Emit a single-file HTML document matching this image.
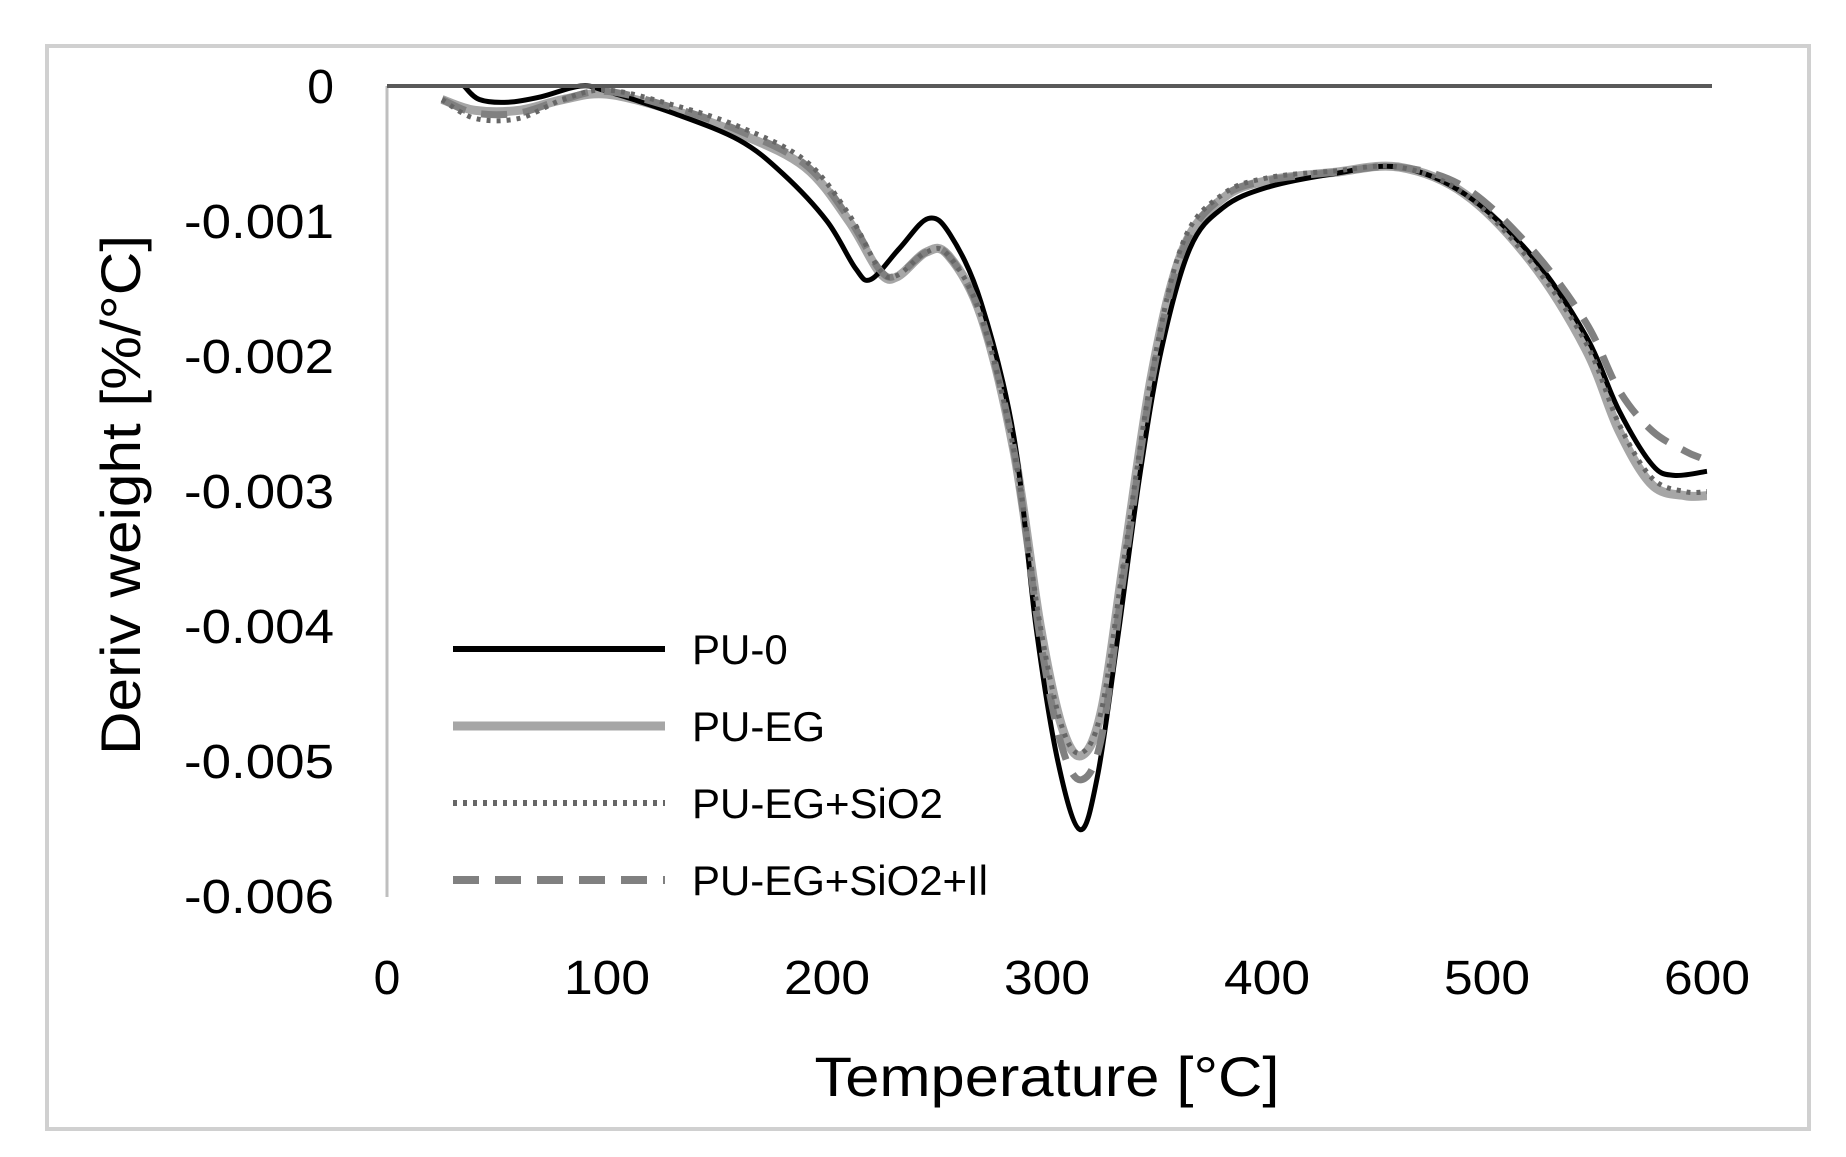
<!DOCTYPE html>
<html><head><meta charset="utf-8"><style>
html,body{margin:0;padding:0;background:#fff;}
svg{display:block;}
text{font-family:"Liberation Sans",sans-serif;fill:#000;}
</style></head><body>
<svg id="s" width="1846" height="1157" viewBox="0 0 1846 1157" xmlns="http://www.w3.org/2000/svg">
<rect x="47" y="46" width="1762" height="1083" fill="#fff" stroke="#d0d0d0" stroke-width="4"/>
<line x1="387" y1="86" x2="387" y2="897" stroke="#bfbfbf" stroke-width="3"/>
<g font-size="48" text-anchor="end">
<text x="334" y="103">0</text>
<text x="334" y="238" textLength="150" lengthAdjust="spacingAndGlyphs">-0.001</text>
<text x="334" y="373" textLength="150" lengthAdjust="spacingAndGlyphs">-0.002</text>
<text x="334" y="508" textLength="150" lengthAdjust="spacingAndGlyphs">-0.003</text>
<text x="334" y="643" textLength="150" lengthAdjust="spacingAndGlyphs">-0.004</text>
<text x="334" y="778" textLength="150" lengthAdjust="spacingAndGlyphs">-0.005</text>
<text x="334" y="913" textLength="150" lengthAdjust="spacingAndGlyphs">-0.006</text>
</g>
<g font-size="48" text-anchor="middle">
<text x="387" y="994">0</text>
<text x="607" y="994" textLength="86" lengthAdjust="spacingAndGlyphs">100</text>
<text x="827" y="994" textLength="86" lengthAdjust="spacingAndGlyphs">200</text>
<text x="1047" y="994" textLength="86" lengthAdjust="spacingAndGlyphs">300</text>
<text x="1267" y="994" textLength="86" lengthAdjust="spacingAndGlyphs">400</text>
<text x="1487" y="994" textLength="86" lengthAdjust="spacingAndGlyphs">500</text>
<text x="1707" y="994" textLength="86" lengthAdjust="spacingAndGlyphs">600</text>
</g>
<text x="1047" y="1096" font-size="56" text-anchor="middle" textLength="465" lengthAdjust="spacingAndGlyphs">Temperature [°C]</text>
<text transform="translate(140,495) rotate(-90)" font-size="56" text-anchor="middle" textLength="520" lengthAdjust="spacingAndGlyphs">Deriv weight [%/°C]</text>
<g id="curves"></g>
<line x1="387" y1="86" x2="1712" y2="86" stroke="#595959" stroke-width="4"/>
<line x1="453" y1="649" x2="665" y2="649" stroke="#000" stroke-width="6"/>
<line x1="453" y1="726" x2="665" y2="726" stroke="#a6a6a6" stroke-width="9"/>
<line x1="453" y1="803" x2="665" y2="803" stroke="#666" stroke-width="6" stroke-dasharray="4,6"/>
<line x1="453" y1="880" x2="665" y2="880" stroke="#808080" stroke-width="8" stroke-dasharray="26,16"/>
<g font-size="42">
<text x="692" y="664">PU-0</text>
<text x="692" y="741">PU-EG</text>
<text x="692" y="818">PU-EG+SiO2</text>
<text x="692" y="895" textLength="296" lengthAdjust="spacingAndGlyphs">PU-EG+SiO2+Il</text>
</g>
</svg>
<script>
function X(t){return 387+t*2.2;}
function Y(v){return 86-v*135.2;}
function path(pts){
 var p=pts.map(function(a){return [X(a[0]),Y(a[1]/10)];});
 var d="M"+p[0][0]+","+p[0][1];
 for(var i=0;i<p.length-1;i++){
  var p0=p[i-1]||p[i],p1=p[i],p2=p[i+1],p3=p[i+2]||p2;
  var c1=[p1[0]+(p2[0]-p0[0])/6,p1[1]+(p2[1]-p0[1])/6];
  var c2=[p2[0]-(p3[0]-p1[0])/6,p2[1]-(p3[1]-p1[1])/6];
  d+=" C"+c1+" "+c2+" "+p2;
 }
 return d;
}
var A=[[35,0],[42,-1],[55,-1.2],[70,-0.8],[88,0],[100,-0.4],[130,-2],[160,-4],[180,-6.5],[200,-10],[213,-13.5],[220,-14.3],[233,-12],[246,-9.8],[256,-11],[270,-16],[285,-26],[295,-40],[305,-50],[315,-55],[323,-51],[332,-41],[342,-29],[352,-19.5],[365,-12],[380,-9],[400,-7.5],[430,-6.5],[460,-6],[490,-8],[520,-12.5],[545,-18.5],[560,-24],[575,-28],[585,-28.8],[600,-28.5]];
var B=[[25,-1],[40,-1.8],[60,-1.8],[80,-1],[100,-0.6],[130,-1.8],[160,-3.5],[190,-6],[210,-10],[224,-13.8],[232,-14.1],[245,-12.3],[255,-12.5],[270,-17],[285,-27],[297,-40],[307,-47.5],[316,-49.5],[325,-46],[335,-35],[348,-21],[362,-12],[380,-8.3],[400,-7],[430,-6.4],[460,-6],[490,-8],[520,-13],[545,-19.5],[560,-25.5],[575,-29.5],[590,-30.3],[600,-30.3]];
var C=[[25,-1],[40,-2.4],[60,-2.4],[80,-1],[100,-0.3],[130,-1.4],[160,-3],[190,-5.5],[210,-9.5],[224,-13.6],[232,-14],[245,-12.3],[255,-12.5],[270,-17],[285,-27],[297,-40],[307,-47.5],[316,-49.3],[325,-46],[335,-35],[348,-21],[362,-11.5],[380,-8],[400,-6.8],[430,-6.3],[460,-6],[490,-8],[520,-13],[545,-19],[560,-25],[575,-29],[590,-30],[600,-30]];
var D=[[25,-1],[40,-2],[60,-2],[80,-1],[100,-0.4],[130,-1.6],[160,-3.3],[190,-5.8],[210,-9.8],[224,-13.6],[232,-14],[245,-12.3],[255,-12.5],[270,-17],[285,-27],[297,-41],[307,-49],[316,-51.3],[325,-48],[335,-36],[348,-21.5],[362,-12],[380,-8.2],[400,-7],[430,-6.4],[460,-6],[490,-7.5],[520,-12],[545,-17.5],[560,-22.5],[575,-25.5],[590,-27],[597,-27.5]];
var g=document.getElementById("curves");
function add(pts,st){g.insertAdjacentHTML("beforeend",'<path d="'+path(pts)+'" fill="none" '+st+'/>');}
add(B,'stroke="#a6a6a6" stroke-width="9"');
add(A,'stroke="#000" stroke-width="5"');
add(D,'stroke="#808080" stroke-width="7" stroke-dasharray="26,16"');
add(C,'stroke="#666" stroke-width="5" stroke-dasharray="4,6"');
</script>
</body></html>
